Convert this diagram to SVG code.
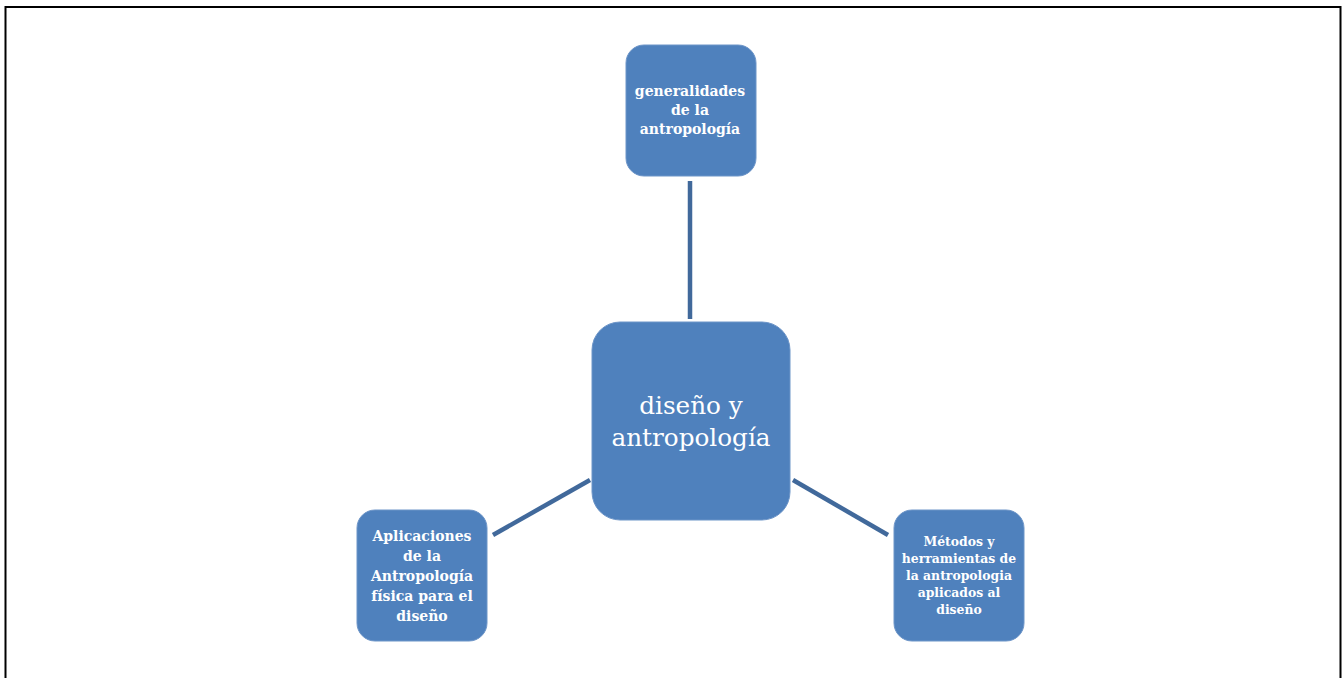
<svg xmlns="http://www.w3.org/2000/svg" width="1342" height="678" viewBox="0 0 1342 678">
<style>
.node{fill:#4f81bd;stroke:#6d95c8;stroke-width:1}
.t{font-family:"DejaVu Serif",serif;font-weight:bold;fill:#fff;text-anchor:middle}
.s{font-size:14px}
.r{font-size:12.4px}
.c{font-family:"DejaVu Serif",serif;fill:#fff;text-anchor:middle;font-size:24.7px}
.conn{stroke:#41699b;stroke-width:4.5;fill:none}
</style>
<rect x="0" y="0" width="1342" height="678" fill="#fff"/>
<path d="M5.5 678 V7 H1340.5 V678" fill="none" stroke="#000" stroke-width="2"/>
<g id="connectors">
<line class="conn" x1="690" y1="181" x2="690" y2="319"/>
<line class="conn" x1="493" y1="535" x2="590" y2="480"/>
<line class="conn" x1="793" y1="480" x2="888" y2="535"/>
</g>
<g id="center">
<rect class="node" x="592" y="322" width="198" height="198" rx="28"/>
<text class="c" x="691" y="414">diseño y</text>
<text class="c" x="691" y="446">antropología</text>
</g>
<g id="top">
<rect class="node" x="626" y="45" width="130" height="131" rx="18"/>
<text class="t s" x="690" y="96">generalidades</text>
<text class="t s" x="690" y="115">de la</text>
<text class="t s" x="690" y="134">antropología</text>
</g>
<g id="left">
<rect class="node" x="357" y="510" width="130" height="131" rx="18"/>
<text class="t s" x="422" y="541">Aplicaciones</text>
<text class="t s" x="422" y="561">de la</text>
<text class="t s" x="422" y="581">Antropología</text>
<text class="t s" x="422" y="601">física para el</text>
<text class="t s" x="422" y="621">diseño</text>
</g>
<g id="right">
<rect class="node" x="894" y="510" width="130" height="131" rx="18"/>
<text class="t r" x="959" y="546">Métodos y</text>
<text class="t r" x="959" y="563">herramientas de</text>
<text class="t r" x="959" y="580">la antropologia</text>
<text class="t r" x="959" y="597">aplicados al</text>
<text class="t r" x="959" y="614">diseño</text>
</g>
</svg>
